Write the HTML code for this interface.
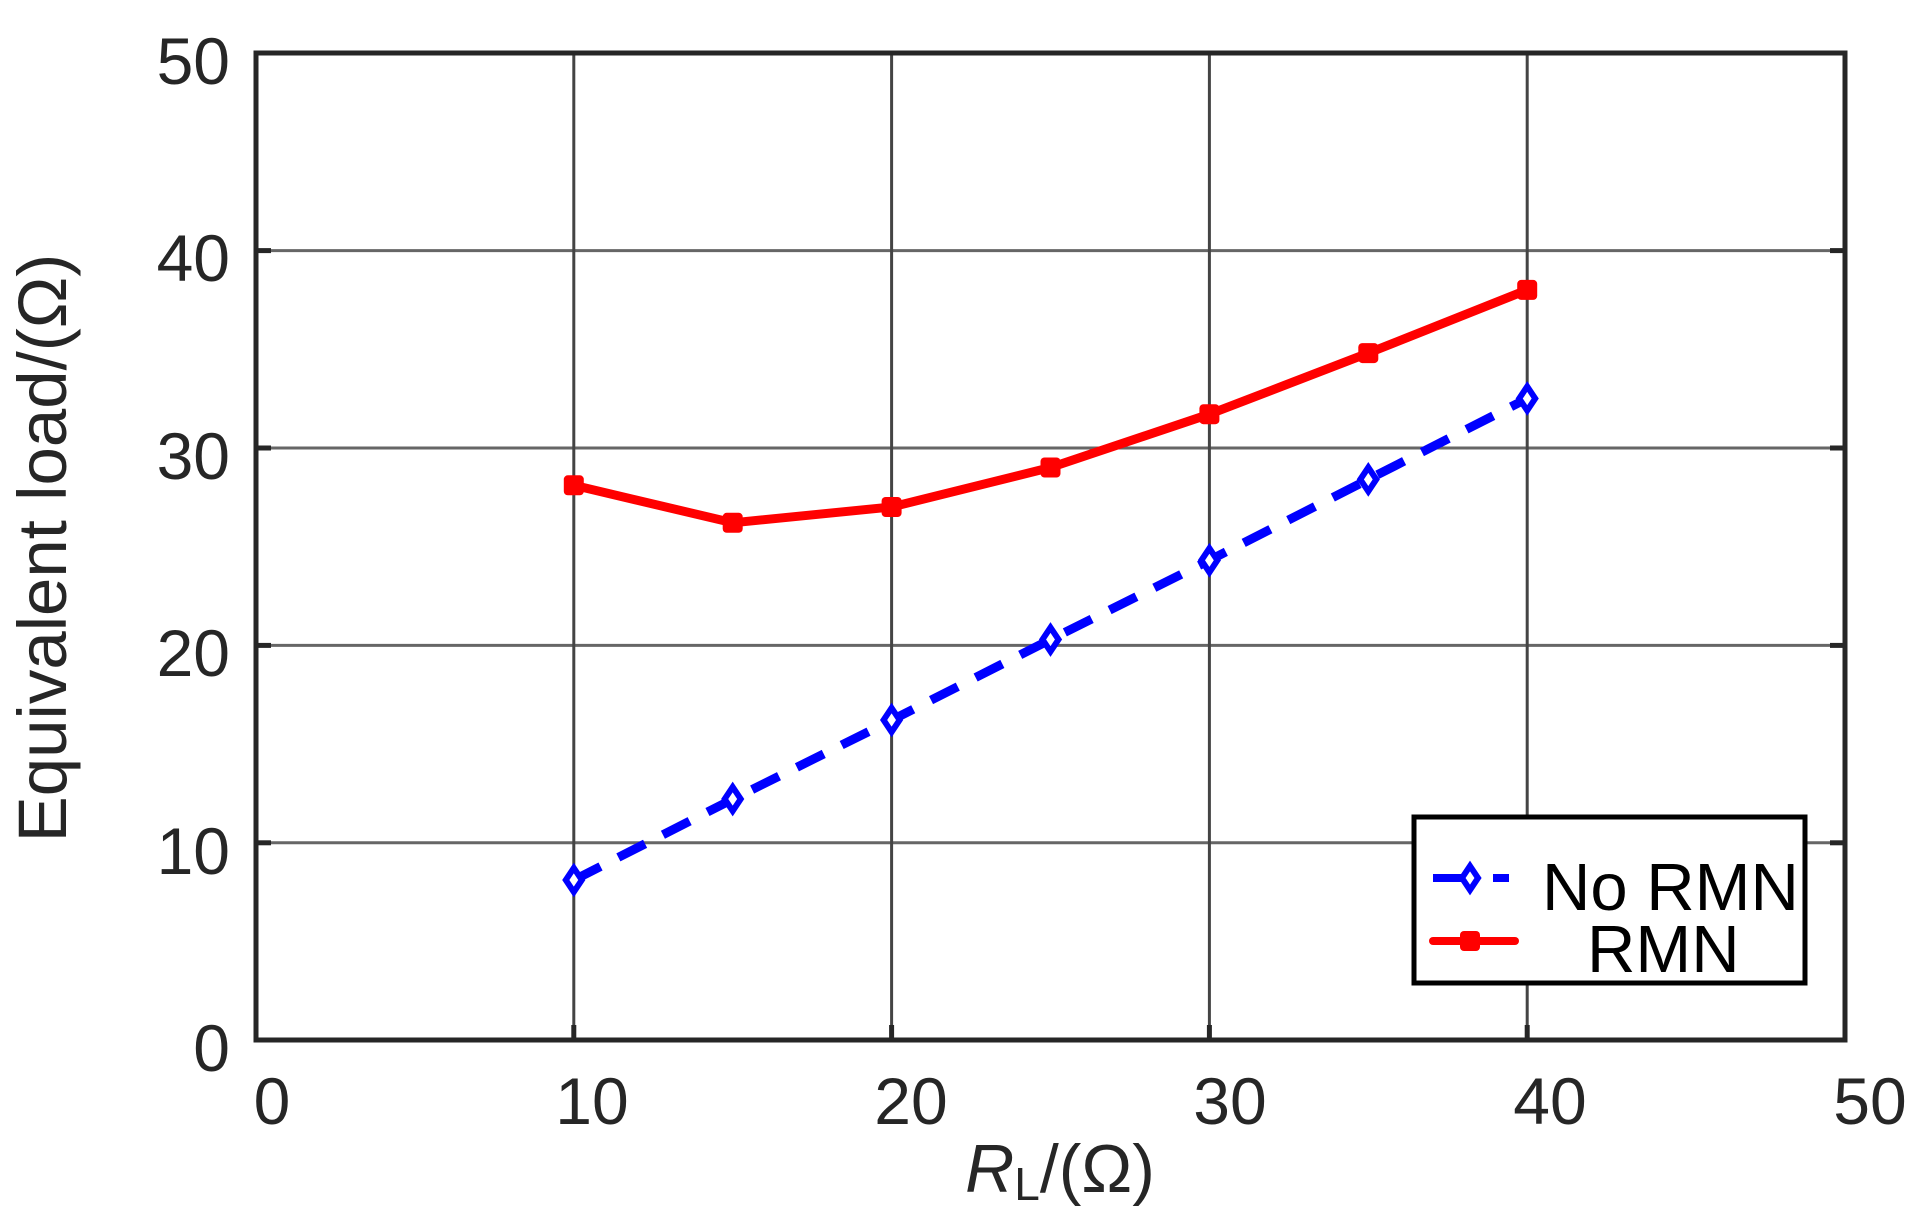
<!DOCTYPE html>
<html><head><meta charset="utf-8"><style>
html,body{margin:0;padding:0;background:#fff;}
svg{display:block;}
text{font-family:"Liberation Sans",sans-serif;fill:#262626;}
</style></head><body>
<svg width="1928" height="1219" viewBox="0 0 1928 1219" xmlns="http://www.w3.org/2000/svg">
<rect width="1928" height="1219" fill="#fff"/>
<g stroke="#666" stroke-width="3">
<line x1="256" y1="250.6" x2="1845" y2="250.6"/>
<line x1="256" y1="448" x2="1845" y2="448"/>
<line x1="256" y1="645.4" x2="1845" y2="645.4"/>
<line x1="256" y1="842.8" x2="1845" y2="842.8"/>
</g>
<g stroke="#444" stroke-width="3">
<line x1="573.8" y1="53" x2="573.8" y2="1040"/>
<line x1="891.6" y1="53" x2="891.6" y2="1040"/>
<line x1="1209.4" y1="53" x2="1209.4" y2="1040"/>
<line x1="1527.2" y1="53" x2="1527.2" y2="1040"/>
</g>
<g stroke="#262626" stroke-width="5">
<line x1="1830" y1="250.6" x2="1845" y2="250.6"/><line x1="1830" y1="448" x2="1845" y2="448"/><line x1="1830" y1="645.4" x2="1845" y2="645.4"/><line x1="1830" y1="842.8" x2="1845" y2="842.8"/>
<line x1="256" y1="250.6" x2="271" y2="250.6"/><line x1="256" y1="448" x2="271" y2="448"/><line x1="256" y1="645.4" x2="271" y2="645.4"/><line x1="256" y1="842.8" x2="271" y2="842.8"/>
<line x1="573.8" y1="1025" x2="573.8" y2="1040"/><line x1="891.6" y1="1025" x2="891.6" y2="1040"/><line x1="1209.4" y1="1025" x2="1209.4" y2="1040"/><line x1="1527.2" y1="1025" x2="1527.2" y2="1040"/>
</g>
<rect x="256" y="53" width="1589" height="987" fill="none" stroke="#262626" stroke-width="5"/>
<polyline fill="none" stroke="#0000ff" stroke-width="9" stroke-dasharray="30,20" points="573.8,880.1 732.7,799.2 891.6,720.2 1050.5,639.5 1209.4,560.3 1368.3,479.4 1527.2,398.5"/>
<g fill="#fff" stroke="#0000ff" stroke-width="6">
<path d="M573.8,868 l8,12 l-8,12 l-8,-12z"/>
<path d="M732.7,787 l8,12 l-8,12 l-8,-12z"/>
<path d="M891.6,708 l8,12 l-8,12 l-8,-12z"/>
<path d="M1050.5,627.5 l8,12 l-8,12 l-8,-12z"/>
<path d="M1209.4,548.3 l8,12 l-8,12 l-8,-12z"/>
<path d="M1368.3,467.4 l8,12 l-8,12 l-8,-12z"/>
<path d="M1527.2,386.5 l8,12 l-8,12 l-8,-12z"/>
</g>
<polyline fill="none" stroke="#ff0000" stroke-width="9" stroke-linejoin="round" points="573.8,485.3 732.7,522.8 891.6,507 1050.5,467.5 1209.4,414.2 1368.3,353.1 1527.2,289.9"/>
<g fill="#ff0000">
<rect x="563.8" y="475.3" width="20" height="20" rx="4"/>
<rect x="722.7" y="512.8" width="20" height="20" rx="4"/>
<rect x="881.6" y="497" width="20" height="20" rx="4"/>
<rect x="1040.5" y="457.5" width="20" height="20" rx="4"/>
<rect x="1199.4" y="404.2" width="20" height="20" rx="4"/>
<rect x="1358.3" y="343.1" width="20" height="20" rx="4"/>
<rect x="1517.2" y="279.9" width="20" height="20" rx="4"/>
</g>
<g transform="translate(-7,-2)">
<rect x="1421" y="819" width="391" height="166" fill="#fff" stroke="#000" stroke-width="5"/>
<line x1="1440" y1="880" x2="1480" y2="880" stroke="#0000ff" stroke-width="8"/>
<line x1="1500" y1="880" x2="1516" y2="880" stroke="#0000ff" stroke-width="8"/>
<path d="M1477,868 l8,12 l-8,12 l-8,-12z" fill="#fff" stroke="#0000ff" stroke-width="6"/>
<line x1="1440" y1="943" x2="1522" y2="943" stroke="#ff0000" stroke-width="8" stroke-linecap="round"/>
<rect x="1467" y="933" width="20" height="20" rx="4" fill="#ff0000"/>
<text x="1549" y="912" font-size="67" style="fill:#000">No RMN</text>
<text x="1594" y="974" font-size="67" style="fill:#000">RMN</text>
</g>
<g font-size="66" text-anchor="end">
<text x="230" y="84">50</text>
<text x="230" y="281">40</text>
<text x="230" y="479">30</text>
<text x="230" y="676">20</text>
<text x="230" y="874">10</text>
<text x="230" y="1071">0</text>
</g>
<g font-size="66" text-anchor="middle">
<text x="272" y="1124">0</text>
<text x="592" y="1124">10</text>
<text x="911" y="1124">20</text>
<text x="1230" y="1124">30</text>
<text x="1550" y="1124">40</text>
<text x="1870" y="1124">50</text>
</g>
<text x="1060" y="1192" font-size="68" text-anchor="middle"><tspan font-style="italic">R</tspan><tspan font-size="46" dy="8">L</tspan><tspan dy="-8">/(Ω)</tspan></text>
<text transform="translate(66,548) rotate(-90)" font-size="69" text-anchor="middle">Equivalent load/(Ω)</text>
</svg>
</body></html>
